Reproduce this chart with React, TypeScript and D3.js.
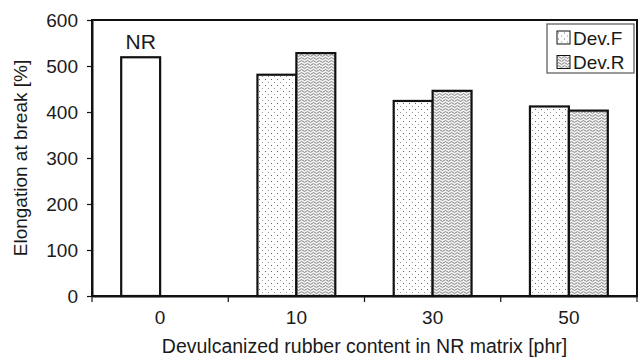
import { useEffect, useRef } from "react";
import { select, scaleBand, scaleLinear, axisLeft, axisBottom } from "d3";

const categories = ["0", "10", "30", "50"];
const seriesNames = ["Dev.F", "Dev.R"];
const devF = [null, 481, 424, 412];
const devR = [null, 528, 446, 403];
// NR reference sample sits in the first slot of category 0
const nrValue = 519;
const yTicks = [0, 100, 200, 300, 400, 500, 600];

function App() {
    const svgRef = useRef(null);

    useEffect(() => {
        const Width = 642;
        const Height = 360;
        const Margin = { top: 20, right: 5, bottom: 64, left: 92 };
        const font = "'Liberation Sans', Arial, sans-serif";

        const svg = select(svgRef.current)
            .attr("width", Width)
            .attr("height", Height);
        svg.selectAll("*").remove();

        // patterns
        const defs = svg.append("defs");
        const dots = defs
            .append("pattern")
            .attr("id", "dotsF")
            .attr("patternUnits", "userSpaceOnUse")
            .attr("width", 6)
            .attr("height", 6);
        dots.append("rect").attr("width", 6).attr("height", 6).attr("fill", "#fff");
        dots.append("rect").attr("x", 1).attr("y", 1).attr("width", 1).attr("height", 1).attr("fill", "#666");
        dots.append("rect").attr("x", 4).attr("y", 4).attr("width", 1).attr("height", 1).attr("fill", "#999");

        const weave = defs
            .append("pattern")
            .attr("id", "weaveR")
            .attr("patternUnits", "userSpaceOnUse")
            .attr("width", 6)
            .attr("height", 3);
        weave.append("rect").attr("width", 6).attr("height", 3).attr("fill", "#f2f2f2");
        weave
            .append("path")
            .attr("d", "M0,1.5 L1.5,0.6 L3,1.5 L4.5,2.4 L6,1.5")
            .attr("fill", "none")
            .attr("stroke", "#6a6a6a")
            .attr("stroke-width", 0.8);

        const innerLeft = Margin.left;
        const innerRight = Width - Margin.right;
        const innerTop = Margin.top;
        const innerBottom = Height - Margin.bottom;

        const x0 = scaleBand()
            .domain(categories)
            .range([innerLeft, innerRight]);
        const x1 = scaleBand()
            .domain(seriesNames)
            .range([0, x0.bandwidth()])
            .paddingOuter(0.75);
        const yScale = scaleLinear().domain([0, 600]).range([innerBottom, innerTop]);

        // plot frame
        svg.append("rect")
            .attr("x", innerLeft)
            .attr("y", innerTop)
            .attr("width", innerRight - innerLeft)
            .attr("height", innerBottom - innerTop)
            .attr("fill", "none")
            .attr("stroke", "#111")
            .attr("stroke-width", 2);

        // bars
        const rows = [];
        categories.forEach((c, i) => {
            if (devF[i] != null) rows.push({ c, s: "Dev.F", v: devF[i], fill: "url(#dotsF)" });
            if (devR[i] != null) rows.push({ c, s: "Dev.R", v: devR[i], fill: "url(#weaveR)" });
        });
        rows.push({ c: "0", s: "Dev.F", v: nrValue, fill: "#fff" });

        svg.append("g")
            .selectAll("rect")
            .data(rows)
            .join("rect")
            .attr("x", (d) => x0(d.c) + x1(d.s))
            .attr("y", (d) => yScale(d.v))
            .attr("width", x1.bandwidth())
            .attr("height", (d) => yScale(0) - yScale(d.v))
            .attr("fill", (d) => d.fill)
            .attr("stroke", "#111")
            .attr("stroke-width", 2.2);

        // NR label
        svg.append("text")
            .attr("x", x0("0") + x1("Dev.F") + x1.bandwidth() / 2)
            .attr("y", yScale(nrValue) - 8)
            .attr("text-anchor", "middle")
            .attr("font-size", 21)
            .attr("fill", "#1a1a1a")
            .text("NR");

        // axes
        const yAxis = axisLeft(yScale).tickValues(yTicks).tickSize(5).tickSizeOuter(0).tickPadding(9);
        const yG = svg.append("g")
            .attr("transform", "translate(" + innerLeft + ",0)")
            .call(yAxis);
        yG.select(".domain").attr("stroke", "#111").attr("stroke-width", 2);
        yG.selectAll(".tick line").attr("stroke", "#111").attr("stroke-width", 1.2);
        yG.selectAll(".tick text").attr("font-size", 19).attr("fill", "#1a1a1a");

        const xAxis = axisBottom(x0).tickSize(0).tickPadding(15);
        const xG = svg.append("g")
            .attr("transform", "translate(0," + innerBottom + ")")
            .call(xAxis);
        xG.select(".domain").attr("stroke", "#111").attr("stroke-width", 2);
        xG.selectAll(".tick text").attr("font-size", 19).attr("fill", "#1a1a1a");

        // category boundary ticks
        const bounds = categories.map((c) => x0(c)).concat([innerRight]);
        svg.append("g")
            .selectAll("line")
            .data(bounds)
            .join("line")
            .attr("x1", (d) => d)
            .attr("x2", (d) => d)
            .attr("y1", innerBottom)
            .attr("y2", innerBottom + 6)
            .attr("stroke", "#111")
            .attr("stroke-width", 1.2);

        // axis titles
        svg.append("text")
            .attr("x", (innerLeft + innerRight) / 2)
            .attr("y", Height - 7)
            .attr("text-anchor", "middle")
            .attr("font-size", 19.5)
            .attr("fill", "#1a1a1a")
            .text("Devulcanized rubber content in NR matrix [phr]");

        svg.append("text")
            .attr("transform", "rotate(-90)")
            .attr("x", -(innerTop + innerBottom) / 2)
            .attr("y", 27)
            .attr("text-anchor", "middle")
            .attr("font-size", 19)
            .attr("fill", "#1a1a1a")
            .text("Elongation at break [%]");

        // legend
        const legend = svg.append("g").attr("transform", "translate(547,24)");
        legend.append("rect")
            .attr("width", 87)
            .attr("height", 49)
            .attr("fill", "#fff")
            .attr("stroke", "#555")
            .attr("stroke-width", 1.2);
        const items = legend
            .selectAll(".item")
            .data(seriesNames)
            .join("g")
            .attr("class", "item")
            .attr("transform", (d, i) => "translate(10," + (13.5 + i * 24.5) + ")");
        items.append("rect")
            .attr("x", 0)
            .attr("y", -6.5)
            .attr("width", 13)
            .attr("height", 13)
            .attr("fill", (d) => (d === "Dev.F" ? "url(#dotsF)" : "url(#weaveR)"))
            .attr("stroke", "#111")
            .attr("stroke-width", 1);
        items.append("text")
            .attr("x", 16)
            .attr("y", 7)
            .attr("font-size", 19)
            .attr("fill", "#1a1a1a")
            .text((d) => d);

        // fonts
        svg.selectAll("text").style("font-family", font);
    }, []);

    return (
        <svg
            ref={svgRef}
            style={{ position: "fixed", left: 0, top: 0, background: "#fff" }}
        ></svg>
    );
}

export default App;
